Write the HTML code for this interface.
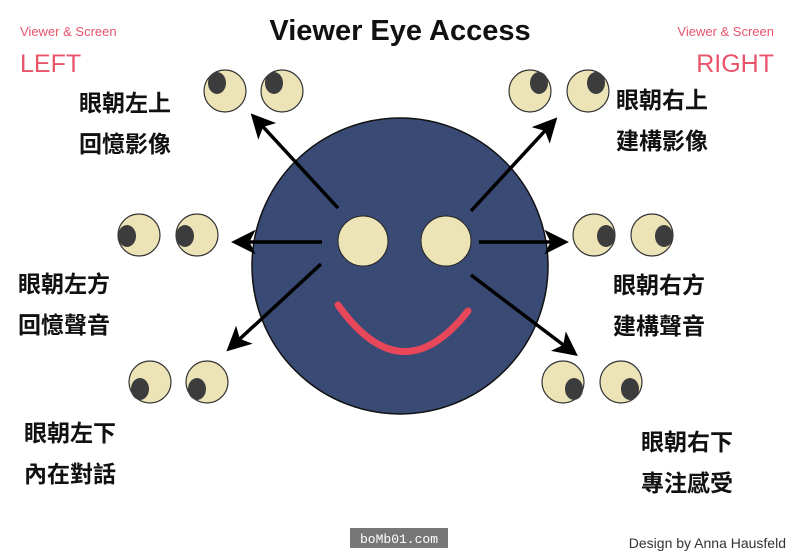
<!DOCTYPE html>
<html><head><meta charset="utf-8"><style>
html,body{margin:0;padding:0;background:#fff;}
svg{display:block}
.cj{font-family:"Liberation Sans","Noto Sans CJK TC",sans-serif;font-weight:bold;font-size:23px;fill:#111;}
</style></head><body>
<svg width="800" height="558" viewBox="0 0 800 558" xmlns="http://www.w3.org/2000/svg">
<defs><marker id="ah" viewBox="0 0 10 10" refX="8" refY="5" markerWidth="7" markerHeight="7" orient="auto"><path d="M0,0 L10,5 L0,10 L2.5,5 z" fill="#000"/></marker></defs>
<text x="400" y="40" text-anchor="middle" font-family="Liberation Sans,sans-serif" font-weight="bold" font-size="29" fill="#111">Viewer Eye Access</text>
<g font-family="Liberation Sans,sans-serif" fill="#e8546a">
<text x="20" y="36" font-size="13">Viewer &amp; Screen</text>
<text x="20" y="72" font-size="25">LEFT</text>
<text x="774" y="36" font-size="13" text-anchor="end">Viewer &amp; Screen</text>
<text x="774" y="72" font-size="25" text-anchor="end">RIGHT</text>
</g>
<circle cx="400" cy="266" r="148" fill="#394a74" stroke="#111" stroke-width="1.5"/>
<circle cx="363" cy="241" r="25" fill="#ece3b6" stroke="#222"/>
<circle cx="446" cy="241" r="25" fill="#ece3b6" stroke="#222"/>
<path d="M338,305 Q402,395 468,311" fill="none" stroke="#e8475a" stroke-width="7" stroke-linecap="round"/>
<g stroke="#000" stroke-width="3.5" marker-end="url(#ah)">
<line x1="338" y1="208" x2="254" y2="117"/>
<line x1="471" y1="211" x2="554" y2="121"/>
<line x1="322" y1="242" x2="236" y2="242"/>
<line x1="479" y1="242" x2="564" y2="242"/>
<line x1="321" y1="264" x2="230" y2="348"/>
<line x1="471" y1="275" x2="574" y2="353"/>
</g>
<g fill="#ece3b6" stroke="#333" stroke-width="1.2">
<circle cx="225" cy="91" r="21"/><circle cx="282" cy="91" r="21"/>
<circle cx="530" cy="91" r="21"/><circle cx="588" cy="91" r="21"/>
<circle cx="139" cy="235" r="21"/><circle cx="197" cy="235" r="21"/>
<circle cx="594" cy="235" r="21"/><circle cx="652" cy="235" r="21"/>
<circle cx="150" cy="382" r="21"/><circle cx="207" cy="382" r="21"/>
<circle cx="563" cy="382" r="21"/><circle cx="621" cy="382" r="21"/>
</g>
<g fill="#3c3c3c">
<ellipse cx="217" cy="83" rx="9" ry="11"/><ellipse cx="274" cy="83" rx="9" ry="11"/>
<ellipse cx="539" cy="83" rx="9" ry="11"/><ellipse cx="596" cy="83" rx="9" ry="11"/>
<ellipse cx="127" cy="236" rx="9" ry="11"/><ellipse cx="185" cy="236" rx="9" ry="11"/>
<ellipse cx="606" cy="236" rx="9" ry="11"/><ellipse cx="664" cy="236" rx="9" ry="11"/>
<ellipse cx="140" cy="389" rx="9" ry="11"/><ellipse cx="197" cy="389" rx="9" ry="11"/>
<ellipse cx="574" cy="389" rx="9" ry="11"/><ellipse cx="630" cy="389" rx="9" ry="11"/>
</g>
<g class="cj">
<text x="79" y="111">眼朝左上</text><text x="79" y="152">回憶影像</text>
<text x="18" y="292">眼朝左方</text><text x="18" y="333">回憶聲音</text>
<text x="24" y="441">眼朝左下</text><text x="24" y="482">內在對話</text>
<text x="616" y="108">眼朝右上</text><text x="616" y="149">建構影像</text>
<text x="613" y="293">眼朝右方</text><text x="613" y="334">建構聲音</text>
<text x="641" y="450">眼朝右下</text><text x="641" y="491">專注感受</text>
</g>
<rect x="350" y="528" width="98" height="20" fill="#777"/>
<text x="399" y="543" text-anchor="middle" font-family="Liberation Mono,monospace" font-size="13" fill="#fff">boMb01.com</text>
<text x="786" y="548" text-anchor="end" font-family="Liberation Sans,sans-serif" font-size="14" fill="#333">Design by Anna Hausfeld</text>
</svg>
</body></html>
